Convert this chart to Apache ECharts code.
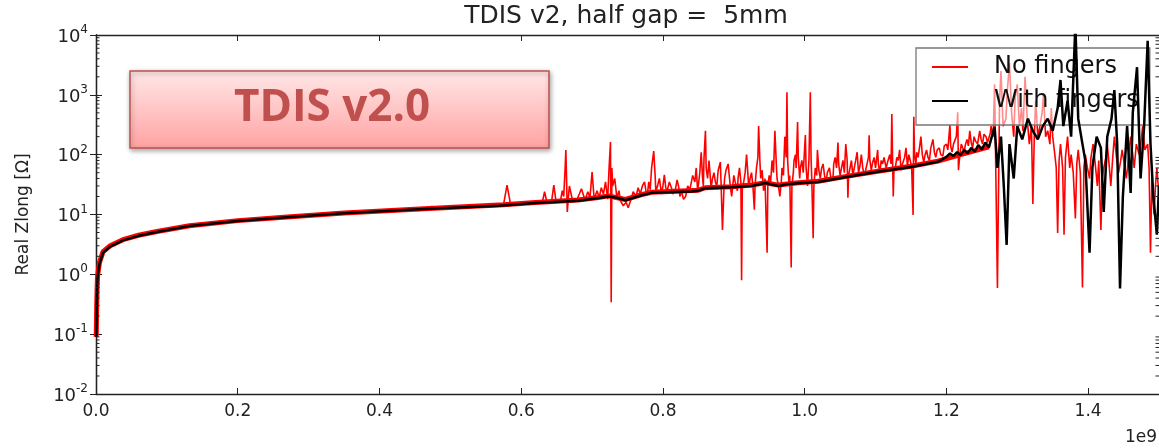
<!DOCTYPE html>
<html>
<head>
<meta charset="utf-8">
<script src="https://cdn.jsdelivr.net/npm/echarts@6/dist/echarts.min.js"></script>
<style>
  html, body { margin: 0; padding: 0; background: #fff; }
  #chart { width: 1159px; height: 448px; }
</style>
</head>
<body>
<div id="chart"></div>
<script>
// frequency in units of 1e9 Hz, real Zlong in Ohm
const withFingers = [
  [0.0002, 0.09], [0.0005, 0.1], [0.001, 0.25], [0.0015, 0.5], [0.002, 0.8], [0.003, 1.05],
  [0.005, 1.5], [0.01, 2.3], [0.02, 2.9], [0.038, 3.7], [0.06, 4.4], [0.086, 5.1],
  [0.132, 6.4], [0.2, 7.8], [0.27, 9.0], [0.35, 10.5], [0.47, 12.5], [0.569, 14],
  [0.62, 15.5], [0.681, 17], [0.709, 18.9], [0.723, 20], [0.735, 19], [0.747, 17.3],
  [0.77, 21], [0.784, 23], [0.84, 24.2], [0.85, 25], [0.86, 27.5], [0.897, 28.5],
  [0.925, 30], [0.944, 33.6], [0.963, 30], [0.975, 32], [0.991, 33.2], [1.019, 35],
  [1.057, 42], [1.103, 52], [1.15, 62], [1.188, 76], [1.2, 92], [1.205, 105], [1.21, 95],
  [1.215, 110], [1.22, 99], [1.225, 120], [1.23, 105], [1.235, 130], [1.24, 112],
  [1.245, 145], [1.25, 122], [1.255, 160], [1.26, 132], [1.263, 180], [1.268, 290],
  [1.272, 60], [1.277, 200], [1.281, 30], [1.285, 3.1], [1.289, 150], [1.295, 40],
  [1.3, 300], [1.307, 180], [1.315, 400], [1.322, 250], [1.329, 180], [1.336, 300],
  [1.343, 400], [1.35, 250], [1.357, 600], [1.361, 1770], [1.365, 300], [1.371, 800],
  [1.376, 200], [1.382, 15000], [1.386, 400], [1.392, 150], [1.396, 80], [1.402, 2.3],
  [1.406, 60], [1.412, 200], [1.418, 130], [1.422, 11], [1.427, 200], [1.433, 400],
  [1.437, 1200], [1.441, 150], [1.445, 0.58], [1.449, 20], [1.455, 300], [1.46, 23],
  [1.463, 500], [1.469, 2900], [1.474, 40], [1.479, 300], [1.484, 8000], [1.488, 150],
  [1.492, 20], [1.497, 4.6], [1.5, 30]
];

// the fuzzy red band that hugs the black curve
const noFingersBand = [
  [0.0002, 0.09], [0.0005, 0.12], [0.001, 0.3], [0.0015, 0.55], [0.002, 0.85], [0.003, 1.1],
  [0.005, 1.6], [0.01, 2.4], [0.02, 3.0], [0.038, 3.8], [0.06, 4.5], [0.086, 5.2],
  [0.132, 6.5], [0.2, 7.9], [0.27, 9.1], [0.35, 10.6], [0.47, 12.6], [0.575, 14.5],
  [0.62, 15.8], [0.68, 17.5], [0.709, 19.2], [0.723, 20.5], [0.747, 17.8], [0.77, 21.5],
  [0.784, 23.5], [0.85, 25.5], [0.86, 28], [0.897, 29], [0.925, 31], [0.944, 34],
  [0.963, 31], [0.991, 34], [1.019, 36], [1.057, 43], [1.103, 53], [1.15, 64],
  [1.188, 78], [1.22, 100], [1.26, 135]
];

const noFingersSpiky = [
  [0.45, 12.3], [0.4735, 12.6], [0.474, 14], [0.4745, 12.6], [0.52, 13.4], [0.575, 14.5],
  [0.58, 31], [0.585, 14.8], [0.6, 15.5], [0.615, 16], [0.63, 16.5], [0.633, 24],
  [0.636, 16.5], [0.643, 17], [0.646, 31], [0.649, 17], [0.655, 16], [0.658, 25],
  [0.66, 20], [0.662, 60], [0.663, 120], [0.664, 40], [0.665, 11], [0.667, 22],
  [0.668, 30], [0.672, 18], [0.678, 17], [0.682, 22], [0.685, 27], [0.69, 17.5],
  [0.694, 24], [0.697, 19], [0.7, 51], [0.703, 18], [0.707, 25], [0.71, 19], [0.713, 28],
  [0.716, 22], [0.719, 35], [0.722, 18], [0.724, 60], [0.726, 163], [0.727, 0.34],
  [0.728, 60], [0.729, 30], [0.732, 40], [0.735, 19], [0.738, 25], [0.74, 17],
  [0.744, 14], [0.748, 16], [0.751, 13], [0.755, 18], [0.758, 24], [0.762, 20],
  [0.765, 28], [0.768, 22], [0.771, 30], [0.774, 35], [0.776, 25], [0.778, 21],
  [0.78, 35], [0.782, 26], [0.784, 60], [0.787, 115], [0.789, 45], [0.79, 24],
  [0.793, 32], [0.795, 40], [0.798, 22], [0.8, 30], [0.802, 46], [0.804, 28],
  [0.806, 25], [0.809, 35], [0.812, 28], [0.814, 22], [0.817, 24], [0.82, 38],
  [0.822, 30], [0.824, 20], [0.826, 25], [0.829, 18], [0.832, 20], [0.835, 30],
  [0.838, 26], [0.842, 45], [0.845, 35], [0.847, 60], [0.849, 24], [0.852, 50],
  [0.854, 110], [0.856, 40], [0.857, 30], [0.858, 90], [0.86, 250], [0.861, 60],
  [0.863, 40], [0.865, 80], [0.868, 28], [0.87, 40], [0.872, 50], [0.874, 35],
  [0.876, 30], [0.878, 55], [0.881, 75], [0.882, 35], [0.884, 5.5], [0.886, 25],
  [0.887, 40], [0.889, 55], [0.892, 70], [0.894, 40], [0.895, 30], [0.897, 20],
  [0.9, 45], [0.902, 35], [0.905, 25], [0.906, 40], [0.908, 60], [0.91, 35], [0.911, 0.8],
  [0.912, 30], [0.914, 35], [0.916, 50], [0.918, 100], [0.92, 45], [0.921, 30],
  [0.923, 40], [0.925, 50], [0.927, 30], [0.929, 12], [0.93, 30], [0.932, 60],
  [0.934, 90], [0.935, 300], [0.937, 70], [0.938, 40], [0.94, 55], [0.942, 25],
  [0.944, 40], [0.947, 2.3], [0.948, 30], [0.95, 45], [0.952, 35], [0.954, 80],
  [0.956, 50], [0.958, 250], [0.96, 70], [0.961, 40], [0.963, 30], [0.965, 20],
  [0.967, 35], [0.968, 60], [0.97, 45], [0.972, 200], [0.974, 90], [0.975, 1100],
  [0.976, 80], [0.978, 30], [0.979, 45], [0.981, 1.3], [0.982, 30], [0.984, 50],
  [0.985, 80], [0.987, 100], [0.988, 60], [0.99, 351], [0.991, 90], [0.993, 40],
  [0.994, 60], [0.996, 80], [0.998, 50], [1.001, 213], [1.002, 60], [1.004, 30],
  [1.006, 80], [1.008, 1100], [1.009, 90], [1.01, 40], [1.012, 4], [1.013, 30],
  [1.015, 60], [1.017, 45], [1.018, 120], [1.02, 55], [1.022, 40], [1.024, 60],
  [1.026, 70], [1.028, 45], [1.03, 35], [1.032, 50], [1.035, 60], [1.037, 40],
  [1.04, 40], [1.041, 70], [1.043, 90], [1.045, 60], [1.047, 160], [1.048, 70],
  [1.05, 45], [1.052, 60], [1.054, 80], [1.056, 50], [1.058, 150], [1.06, 80],
  [1.061, 19], [1.062, 45], [1.064, 60], [1.066, 80], [1.068, 45], [1.07, 60],
  [1.072, 80], [1.074, 110], [1.076, 50], [1.078, 65], [1.08, 100], [1.082, 60],
  [1.084, 45], [1.086, 55], [1.088, 70], [1.09, 90], [1.091, 210], [1.092, 80],
  [1.094, 55], [1.096, 75], [1.098, 90], [1.1, 60], [1.103, 120], [1.104, 70],
  [1.106, 50], [1.108, 80], [1.11, 70], [1.112, 90], [1.115, 60], [1.117, 75],
  [1.12, 100], [1.122, 70], [1.123, 480], [1.124, 90], [1.125, 20], [1.126, 55],
  [1.128, 60], [1.13, 90], [1.132, 80], [1.134, 120], [1.136, 55], [1.138, 70],
  [1.141, 90], [1.143, 130], [1.145, 65], [1.147, 100], [1.149, 80], [1.151, 60],
  [1.153, 9.8], [1.154, 430], [1.155, 100], [1.157, 70], [1.158, 110], [1.16, 90],
  [1.162, 130], [1.164, 200], [1.166, 100], [1.168, 75], [1.17, 100], [1.172, 120],
  [1.174, 90], [1.176, 80], [1.178, 130], [1.181, 180], [1.183, 110], [1.185, 90],
  [1.187, 120], [1.19, 130], [1.192, 100], [1.195, 95], [1.197, 140], [1.2, 150],
  [1.202, 120], [1.205, 320], [1.206, 140], [1.208, 110], [1.21, 150], [1.212, 140],
  [1.214, 200], [1.216, 510], [1.217, 55], [1.219, 100], [1.221, 150], [1.223, 130],
  [1.225, 110], [1.227, 150], [1.229, 180], [1.231, 140], [1.233, 250], [1.235, 160],
  [1.237, 130], [1.239, 200], [1.241, 170], [1.244, 150], [1.247, 250], [1.249, 180],
  [1.251, 150], [1.253, 220], [1.256, 200], [1.258, 160], [1.26, 170], [1.262, 230],
  [1.263, 300], [1.265, 220], [1.266, 200], [1.268, 1500], [1.272, 0.59], [1.275, 800],
  [1.277, 2500], [1.28, 300], [1.284, 400], [1.286, 1200], [1.289, 3400], [1.292, 500],
  [1.295, 200], [1.297, 900], [1.3, 1500], [1.303, 300], [1.306, 600], [1.308, 250],
  [1.311, 2000], [1.314, 400], [1.317, 150], [1.32, 300], [1.322, 15], [1.324, 200],
  [1.326, 800], [1.329, 200], [1.332, 300], [1.335, 500], [1.337, 1000], [1.34, 200],
  [1.343, 250], [1.346, 150], [1.348, 600], [1.35, 200], [1.353, 100], [1.355, 60],
  [1.357, 4.9], [1.359, 80], [1.361, 150], [1.364, 60], [1.366, 4.6], [1.368, 90],
  [1.371, 200], [1.374, 60], [1.376, 100], [1.379, 50], [1.382, 8.6], [1.384, 70],
  [1.386, 120], [1.389, 50], [1.392, 0.6], [1.394, 60], [1.396, 100], [1.399, 60],
  [1.402, 40], [1.404, 90], [1.407, 150], [1.41, 70], [1.413, 30], [1.415, 80],
  [1.418, 5.5], [1.42, 40], [1.422, 60], [1.425, 90], [1.427, 150], [1.43, 60],
  [1.432, 30], [1.435, 100], [1.437, 200], [1.44, 90], [1.443, 50], [1.446, 80],
  [1.448, 120], [1.451, 70], [1.454, 40], [1.457, 90], [1.46, 200], [1.463, 100],
  [1.465, 60], [1.468, 150], [1.472, 100], [1.475, 180], [1.477, 300], [1.48, 120],
  [1.484, 150], [1.486, 60], [1.488, 2.3], [1.49, 40], [1.493, 10], [1.495, 30],
  [1.497, 60], [1.5, 20]
];

// log decades that carry minor ticks, and the mantissas of those ticks
const yDecades = [-2, -1, 0, 1, 2, 3];
const minorMantissas = [2, 3, 4, 5, 6, 7, 8, 9];
const minorTicks = [];
yDecades.forEach(d => minorMantissas.forEach(m => minorTicks.push([0, m * Math.pow(10, d)])));

const FONT = 'DejaVu Sans';
const X_MAX = 1.5;

const chart = echarts.init(document.getElementById('chart'), null, { renderer: 'canvas' });

const axisLine = { lineStyle: { color: '#222', width: 1.3 } };
const majorTick = { inside: true, length: 6, lineStyle: { color: '#222', width: 1 } };

const option = {
  animation: false,
  backgroundColor: '#fff',
  legend: {
    data: ['No fingers', 'With fingers'],
    orient: 'vertical',
    left: 916,
    top: 48,
    padding: [7, 11, 12, 16],
    icon: 'rect',
    itemWidth: 36,
    itemHeight: 2,
    itemGap: 10,
    backgroundColor: 'rgba(255,255,255,0.55)',
    borderColor: '#777',
    borderWidth: 1.3,
    borderRadius: 0,
    textStyle: { fontFamily: FONT, fontSize: 24, lineHeight: 24, color: '#111', padding: [0, 0, 0, 21] }
  },
  grid: { left: 96, top: 35, width: 1065, height: 359, containLabel: false },
  xAxis: [
    {
      type: 'value',
      min: 0,
      max: X_MAX,
      interval: 0.2,
      axisLine: axisLine,
      axisTick: majorTick,
      splitLine: { show: false },
      axisLabel: {
        showMaxLabel: false,
        margin: 9,
        fontFamily: FONT,
        fontSize: 17,
        color: '#222',
        formatter: v => v.toFixed(1)
      }
    },
    {
      type: 'value',
      position: 'top',
      min: 0,
      max: X_MAX,
      interval: 0.2,
      axisLine: axisLine,
      axisTick: majorTick,
      axisLabel: { show: false },
      splitLine: { show: false }
    }
  ],
  yAxis: [
    {
      type: 'log',
      logBase: 10,
      min: 0.01,
      max: 10000,
      name: 'Real Zlong [Ω]',
      nameLocation: 'middle',
      nameGap: 64,
      nameTextStyle: { fontFamily: FONT, fontSize: 17, color: '#222' },
      axisLine: axisLine,
      axisTick: majorTick,
      splitLine: { show: false },
      axisLabel: {
        margin: 8,
        fontFamily: FONT,
        color: '#222',
        formatter: v => '{b|10}{s|' + Math.round(Math.log10(v)) + '}',
        rich: {
          b: { fontFamily: FONT, fontSize: 18, color: '#222', lineHeight: 22, verticalAlign: 'bottom' },
          s: { fontFamily: FONT, fontSize: 12, color: '#222', lineHeight: 22, verticalAlign: 'top' }
        }
      }
    },
    {
      type: 'log',
      logBase: 10,
      min: 0.01,
      max: 10000,
      position: 'right',
      axisLine: axisLine,
      axisTick: majorTick,
      axisLabel: { show: false },
      splitLine: { show: false }
    }
  ],
  graphic: [
    {
      type: 'text',
      x: 626,
      y: 16,
      style: {
        text: 'TDIS v2, half gap =  5mm',
        fontFamily: FONT,
        fontSize: 25,
        fill: '#222',
        align: 'center',
        verticalAlign: 'middle'
      }
    },
    {
      type: 'rect',
      shape: { x: 130, y: 71, width: 419, height: 77 },
      style: {
        fill: new echarts.graphic.LinearGradient(0, 0, 0, 1, [
          { offset: 0, color: '#ffe8e8' },
          { offset: 1, color: '#ffa2a2' }
        ]),
        stroke: '#c0504d',
        lineWidth: 1.5,
        shadowBlur: 5,
        shadowOffsetX: 1,
        shadowOffsetY: 2,
        shadowColor: 'rgba(0,0,0,0.35)'
      },
      z: 20
    },
    {
      type: 'text',
      x: 332,
      y: 108,
      style: {
        text: 'TDIS v2.0',
        fontFamily: 'Open Sans',
        fontWeight: 'bold',
        fontSize: 44,
        fill: '#c0504d',
        align: 'center',
        verticalAlign: 'middle'
      },
      z: 21
    },
    {
      type: 'text',
      left: 1125,
      top: 429,
      style: { text: '1e9', fontFamily: FONT, fontSize: 17, fill: '#222' }
    }
  ],
  series: [
    {
      name: 'No fingers',
      type: 'line',
      data: noFingersSpiky,
      showSymbol: false,
      symbol: 'none',
      sampling: null,
      z: 3,
      lineStyle: { color: '#ff0000', width: 1.6 },
      itemStyle: { color: '#ff0000' }
    },
    {
      name: 'No fingers',
      type: 'line',
      data: noFingersBand,
      showSymbol: false,
      symbol: 'none',
      z: 2,
      lineStyle: { color: '#ff0000', width: 5 },
      itemStyle: { color: '#ff0000' }
    },
    {
      name: 'With fingers',
      type: 'line',
      data: withFingers,
      showSymbol: false,
      symbol: 'none',
      z: 4,
      lineStyle: { color: '#000000', width: 2.5 },
      itemStyle: { color: '#000000' }
    },
    {
      // minor log ticks on the left and right spines
      type: 'custom',
      silent: true,
      z: 5,
      data: minorTicks,
      renderItem: (params, api) => {
        const v = api.value(1);
        const l = api.coord([0, v]);
        const r = api.coord([X_MAX, v]);
        const style = { stroke: '#222', lineWidth: 1 };
        return {
          type: 'group',
          children: [
            { type: 'line', shape: { x1: l[0], y1: l[1], x2: l[0] + 3.5, y2: l[1] }, style: style },
            { type: 'line', shape: { x1: r[0], y1: r[1], x2: r[0] - 3.5, y2: r[1] }, style: style }
          ]
        };
      }
    }
  ]
};

chart.setOption(option);
</script>
</body>
</html>
